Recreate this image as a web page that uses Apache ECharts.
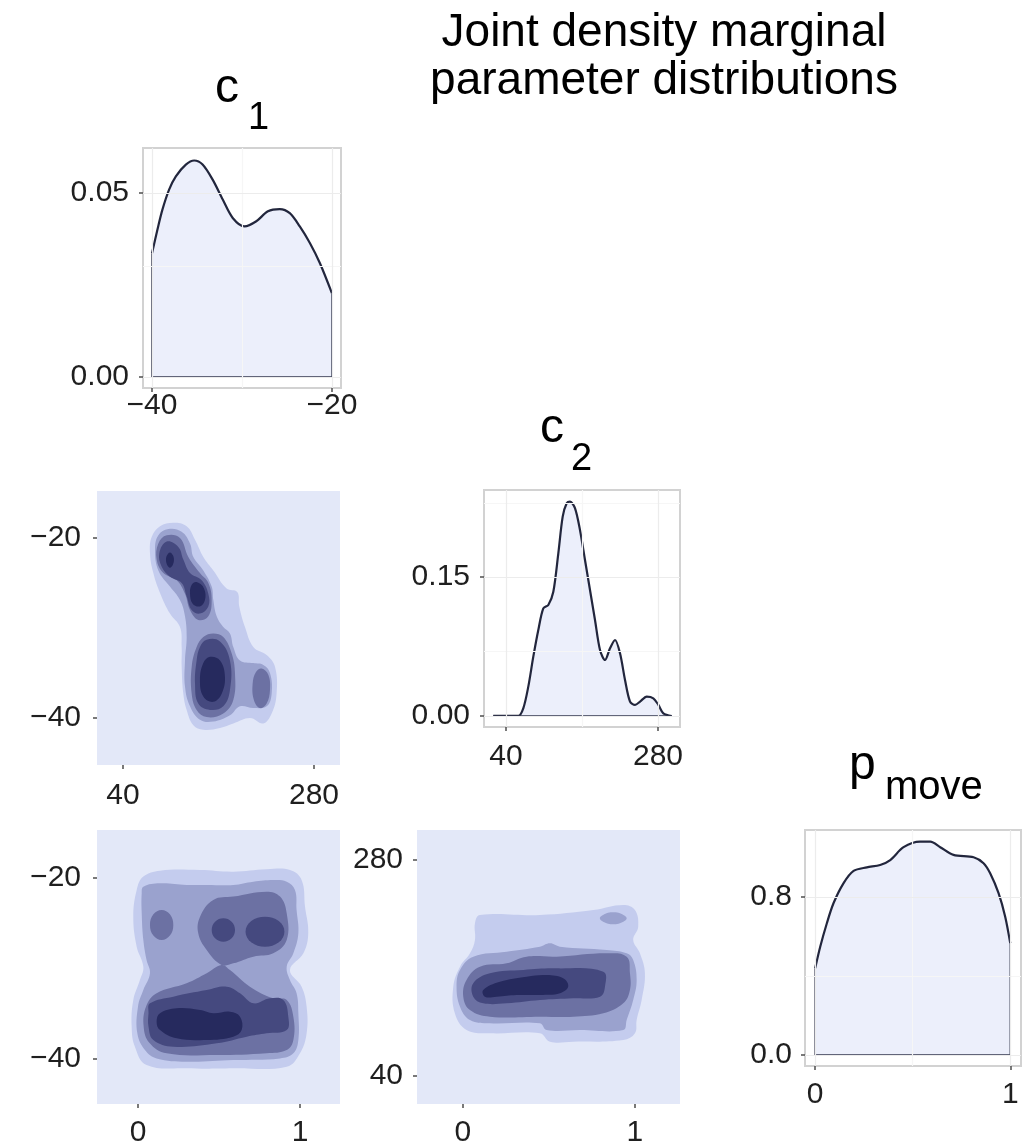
<!DOCTYPE html>
<html>
<head>
<meta charset="utf-8">
<title>Joint density marginal parameter distributions</title>
<script src="https://cdn.jsdelivr.net/npm/echarts@6/dist/echarts.min.js"></script>
<style>
  html, body { margin: 0; padding: 0; background: #ffffff; }
  #chart { width: 1025px; height: 1146px; }
</style>
</head>
<body>
<div id="chart"></div>
<script>
// Marginal density of c1
const c1Values = [-40, -39.4, -38.85, -38.1, -37.35, -36.24, -35.31, -34.38, -33.26, -32.14, -31.03, -29.72, -28.41, -27.12, -25.81, -24.69, -23.58, -22.46, -21.34, -20];
const c1Density = [0.0336, 0.0400, 0.0454, 0.0509, 0.0545, 0.0577, 0.0588, 0.0577, 0.0536, 0.0482, 0.0432, 0.0409, 0.0423, 0.0450, 0.0456, 0.0445, 0.0409, 0.0364, 0.0309, 0.0227];

// Marginal density of c2
const c2Values = [19.9, 59.4, 67.3, 75.2, 83.1, 91.0, 98.9, 106.8, 114.7, 122.6, 129.5, 135.8, 141.1, 149.0, 156.8, 164.7, 172.6, 180.5, 188.4, 196.3, 204.2, 212.1, 220.0, 227.9, 235.8, 243.7, 251.6, 262.2, 272.6, 280.6, 288.4, 301.6];
const c2Density = [0, 0, 0.0083, 0.0317, 0.0640, 0.0928, 0.1162, 0.1198, 0.1341, 0.1756, 0.2151, 0.2295, 0.2313, 0.2241, 0.2007, 0.1683, 0.1360, 0.1036, 0.0712, 0.0604, 0.0730, 0.0820, 0.0676, 0.0388, 0.0155, 0.0119, 0.0155, 0.0209, 0.0191, 0.0119, 0.0029, 0];

// Marginal density of p_move
const pMoveValues = [0, 0.026, 0.060, 0.094, 0.145, 0.197, 0.265, 0.333, 0.385, 0.453, 0.538, 0.590, 0.641, 0.709, 0.812, 0.863, 0.897, 0.940, 0.974, 1];
const pMoveDensity = [0.439, 0.548, 0.667, 0.768, 0.869, 0.932, 0.950, 0.962, 0.987, 1.052, 1.080, 1.080, 1.052, 1.013, 1.001, 0.971, 0.920, 0.819, 0.700, 0.566];

// Tick positions
const c1Ticks = [-40, -20];
const c2Ticks = [40, 280];
const pMoveTicks = [0, 1];
const c1DensityTicks = [0, 0.05];
const c2DensityTicks = [0, 0.15];
const pMoveDensityTicks = [0, 0.8];

// Minor grid positions of the marginal panels
const c1MinorX = [-30];
const c1MinorY = [0.025];
const c2MinorX = [160];
const c2MinorY = [0.075, 0.225];
const pMoveMinorX = [0.5];
const pMoveMinorY = [0.4];

// Joint density bands, each as [level, [[x, y], ...]], lowest level first
const c2c1Bands = [
  [1, [[103.2,-18.3],[120.0,-18.7],[130.5,-20.2],[140.9,-22.1],[153.5,-23.6],[170.2,-25.6],[183.6,-26.0],[186.1,-27.6],[193.3,-29.9],[203.7,-32.1],[220.5,-33.0],[231.0,-34.3],[233.0,-37.3],[226.8,-39.5],[216.3,-40.6],[199.5,-40.0],[178.6,-40.6],[161.9,-41.1],[140.9,-41.3],[128.4,-40.8],[120.0,-39.1],[115.8,-37.3],[113.7,-34.3],[113.7,-32.1],[111.6,-29.9],[99.0,-28.4],[86.5,-26.1],[78.1,-23.9],[73.9,-21.7],[76.0,-19.9],[86.5,-18.7]]],
  [2, [[97.0,-19.0],[113.7,-19.3],[124.2,-20.6],[128.4,-22.1],[140.9,-23.6],[151.4,-25.4],[153.5,-26.9],[157.7,-28.7],[166.0,-29.9],[174.4,-30.6],[178.6,-32.1],[187.0,-33.6],[203.7,-33.9],[216.3,-34.1],[224.7,-35.0],[226.8,-37.3],[220.5,-38.7],[203.7,-38.9],[187.0,-38.7],[174.4,-39.7],[153.5,-40.4],[136.7,-40.2],[124.2,-38.7],[117.9,-36.5],[117.9,-33.6],[120.0,-31.0],[117.9,-28.7],[111.6,-26.9],[99.0,-25.4],[84.4,-23.6],[80.2,-21.3],[84.4,-19.7]]],
  [3, [[94.9,-19.7],[111.6,-20.0],[122.1,-22.1],[136.7,-23.9],[147.2,-25.0],[151.4,-26.9],[147.2,-28.7],[134.6,-29.1],[124.2,-28.0],[117.9,-26.2],[107.4,-24.7],[90.7,-23.9],[82.3,-22.4],[84.4,-20.6]]],
  [3, [[153.5,-30.6],[166.0,-31.0],[176.5,-32.8],[180.7,-35.0],[178.6,-38.0],[166.0,-39.5],[145.1,-39.9],[132.5,-39.1],[126.3,-37.3],[126.3,-34.3],[132.5,-32.1],[140.9,-31.0]]],
  [3, [[214.2,-34.5],[222.6,-35.2],[224.7,-36.9],[220.5,-38.4],[212.1,-38.9],[204.5,-38.0],[202.9,-36.2],[207.1,-34.9]]],
  [4, [[94.9,-20.4],[109.5,-21.0],[115.8,-22.4],[124.2,-23.9],[138.8,-24.7],[147.2,-26.2],[147.2,-27.6],[136.7,-28.4],[126.3,-28.0],[120.0,-26.5],[113.7,-25.0],[99.0,-24.3],[88.6,-23.2],[85.6,-21.7]]],
  [4, [[145.1,-31.3],[161.9,-31.5],[174.4,-33.6],[174.4,-36.9],[166.0,-38.7],[149.3,-39.1],[134.6,-38.4],[130.5,-36.2],[132.5,-33.6],[136.7,-32.1]]],
  [5, [[99,-21.6],[102.5,-21.9],[104,-22.4],[102.5,-23.0],[99,-23.3],[95.5,-23.0],[94,-22.4],[95.5,-21.9]]],
  [5, [[132.5,-24.9],[141.8,-25.6],[143.0,-26.9],[136.7,-27.6],[127.5,-27.3],[124.2,-26.2],[126.3,-25.2]]],
  [5, [[149.3,-33.2],[161.9,-33.6],[168.1,-35.4],[164.0,-37.3],[153.5,-38.2],[140.9,-37.6],[136.7,-35.8],[140.9,-33.9]]]
];

const pMoveC1Bands = [
  [1, [[0.033,-19.85],[0.136,-19.19],[0.383,-19.12],[0.588,-19.30],[0.794,-19.04],[0.938,-19.12],[1.010,-20.22],[1.031,-23.17],[1.051,-26.11],[1.021,-28.32],[0.938,-30.17],[1.010,-32.01],[1.041,-34.22],[1.041,-37.16],[1.000,-39.37],[0.918,-40.85],[0.588,-41.03],[0.300,-41.03],[0.053,-40.66],[-0.019,-38.64],[-0.039,-36.43],[-0.029,-33.48],[0.012,-31.27],[0.033,-29.80],[-0.008,-27.59],[-0.029,-24.27],[-0.008,-21.33]]],
  [2, [[0.033,-20.96],[0.136,-20.59],[0.300,-20.77],[0.424,-20.77],[0.588,-20.77],[0.712,-20.41],[0.835,-20.22],[0.918,-20.41],[0.969,-21.33],[0.979,-23.54],[0.990,-26.11],[0.959,-28.32],[0.918,-29.80],[0.938,-31.27],[0.979,-32.74],[0.990,-34.95],[0.990,-37.90],[0.959,-39.37],[0.877,-39.93],[0.588,-40.11],[0.300,-40.29],[0.115,-39.93],[0.043,-39.01],[-0.004,-37.16],[0.000,-34.22],[0.033,-32.38],[0.074,-30.53],[0.053,-29.06],[0.033,-26.85],[0.023,-23.90],[0.023,-21.69]]],
  [3, [[0.146,-23.53],[0.197,-24.02],[0.218,-25.19],[0.197,-26.36],[0.146,-26.85],[0.095,-26.36],[0.074,-25.19],[0.095,-24.02]]],
  [3, [[0.465,-22.43],[0.588,-22.06],[0.794,-21.51],[0.877,-22.06],[0.918,-23.90],[0.918,-26.85],[0.835,-28.32],[0.712,-28.69],[0.588,-29.43],[0.516,-29.61],[0.424,-27.96],[0.372,-26.11],[0.383,-24.27]]],
  [3, [[0.516,-29.61],[0.568,-30.17],[0.691,-32.01],[0.835,-33.30],[0.918,-33.48],[0.959,-35.32],[0.959,-37.90],[0.918,-39.01],[0.794,-39.37],[0.486,-39.56],[0.177,-39.37],[0.070,-38.20],[0.035,-36.40],[0.050,-34.20],[0.115,-32.74],[0.300,-31.64],[0.424,-30.53]]],
  [4, [[0.527,-24.46],[0.578,-24.84],[0.599,-25.75],[0.578,-26.66],[0.527,-27.04],[0.476,-26.66],[0.455,-25.75],[0.476,-24.84]]],
  [4, [[0.784,-24.27],[0.869,-24.76],[0.904,-25.93],[0.869,-27.10],[0.784,-27.59],[0.699,-27.10],[0.664,-25.93],[0.699,-24.76]]],
  [4, [[0.074,-33.85],[0.218,-33.11],[0.424,-32.38],[0.547,-32.01],[0.630,-32.74],[0.712,-33.85],[0.815,-33.30],[0.897,-33.48],[0.928,-35.32],[0.918,-36.80],[0.794,-37.16],[0.671,-37.53],[0.486,-38.27],[0.218,-38.64],[0.095,-37.90],[0.065,-36.43],[0.065,-34.95]]],
  [5, [[0.136,-34.95],[0.239,-34.40],[0.383,-34.59],[0.465,-34.95],[0.568,-34.77],[0.630,-35.32],[0.640,-36.80],[0.588,-37.53],[0.424,-37.90],[0.239,-37.72],[0.136,-36.80],[0.115,-35.87]]]
];

const pMoveC2Bands = [
  [1, [[0.099,218.9],[0.448,218.9],[0.758,224.4],[0.932,230.0],[1.000,224.4],[1.019,205.9],[0.990,191.1],[1.029,176.3],[1.058,154.1],[1.039,124.4],[1.010,102.2],[1.000,87.4],[0.932,80.0],[0.641,78.1],[0.506,78.1],[0.448,87.4],[0.157,87.4],[0.021,91.1],[-0.047,109.6],[-0.056,139.3],[-0.017,161.5],[0.041,176.3],[0.070,191.1],[0.070,209.6]]],
  [2, [[0.796,215.2],[0.835,220.8],[0.874,221.9],[0.913,220.8],[0.952,215.2],[0.913,209.6],[0.874,208.5],[0.835,209.6]]],
  [2, [[0.060,172.6],[0.254,178.1],[0.448,183.7],[0.506,187.4],[0.564,183.7],[0.835,180.0],[0.952,176.3],[0.990,168.9],[1.010,146.7],[0.990,124.4],[0.952,102.2],[0.932,91.1],[0.680,91.1],[0.486,91.1],[0.448,98.5],[0.157,98.5],[0.041,102.2],[-0.017,117.0],[-0.037,139.3],[-0.017,157.8]]],
  [3, [[0.021,146.7],[0.099,161.5],[0.254,165.2],[0.370,172.6],[0.545,172.6],[0.835,176.3],[0.952,172.6],[0.971,154.1],[0.971,135.6],[0.932,120.7],[0.816,109.6],[0.641,105.9],[0.448,105.9],[0.157,105.9],[0.041,113.3],[0.002,128.1]]],
  [4, [[0.060,143.0],[0.157,154.1],[0.351,157.8],[0.545,159.6],[0.816,155.9],[0.826,139.3],[0.797,128.1],[0.641,126.3],[0.448,124.4],[0.254,120.7],[0.118,120.7],[0.060,128.1]]],
  [5, [[0.118,135.6],[0.215,144.8],[0.370,150.4],[0.486,152.2],[0.583,148.5],[0.612,139.3],[0.564,131.9],[0.448,130.0],[0.312,130.0],[0.196,128.1],[0.128,128.1]]]
];

// Fill colours of the density bands, from the lowest band (panel background) to the highest
const bandColors = ['#e3e8f8', '#c4ccee', '#9aa2ce', '#6c71a3', '#45497f', '#262a5e'];

const FONT = '"Liberation Sans", Arial, Helvetica, sans-serif';

function valueAxis(gridIndex, min, max, ticks, decimals, margin) {
  return {
    type: 'value', gridIndex, min, max,
    axisLine: { show: false, onZero: false },
    splitLine: { show: false },
    axisTick: { show: true, customValues: ticks, length: 4, lineStyle: { color: '#4d4d4d', width: 1.5 } },
    axisLabel: {
      customValues: ticks, margin, fontSize: 30, fontFamily: FONT, color: '#1f1f1f',
      formatter: v => (decimals == null ? String(v) : Number(v).toFixed(decimals)).replace('-', '\u2212')
    }
  };
}

function gridLineSeries(idx, majorX, majorY, minorX, minorY) {
  const make = (xs, ys, color) => ({
    type: 'line', xAxisIndex: idx, yAxisIndex: idx, data: [], silent: true, z: 1,
    markLine: {
      silent: true, symbol: 'none', animation: false, label: { show: false },
      lineStyle: { color, width: 1.2, type: 'solid' },
      emphasis: { disabled: true },
      data: xs.map(v => ({ xAxis: v })).concat(ys.map(v => ({ yAxis: v })))
    }
  });
  return [make(minorX, minorY, '#f6f6f6'), make(majorX, majorY, '#ececec')];
}

function densitySeries(idx, xs, ys) {
  const pts = xs.map((x, i) => [x, ys[i]]);
  const n = xs.length - 1;
  return [
    {
      type: 'line', xAxisIndex: idx, yAxisIndex: idx, data: pts, smooth: 0.3, symbol: 'none', silent: true, z: 3,
      lineStyle: { color: '#22263d', width: 2.2 },
      areaStyle: { color: '#eceffb', opacity: 1 }
    },
    {
      type: 'line', xAxisIndex: idx, yAxisIndex: idx, symbol: 'none', silent: true, z: 4,
      data: [[xs[0], ys[0]], [xs[0], 0], [xs[n], 0], [xs[n], ys[n]]],
      lineStyle: { color: '#34384f', width: 1.5 }
    }
  ];
}

function contourSeries(idx, bands) {
  return {
    type: 'custom', xAxisIndex: idx, yAxisIndex: idx, silent: true, clip: true, z: 2,
    data: bands.map((b, i) => [b[1][0][0], b[1][0][1], i]),
    renderItem: (params, api) => {
      const band = bands[api.value(2)];
      return {
        type: 'polygon',
        shape: { points: band[1].map(p => api.coord(p)), smooth: 0.4 },
        style: { fill: bandColors[band[0]], stroke: null }
      };
    }
  };
}

const marginalGrid = (left, top, width, height) => ({
  left, top, width, height, show: true, backgroundColor: '#ffffff',
  borderColor: '#d2d2d2', borderWidth: 2, outerBoundsMode: 'none'
});
const jointGrid = (left, top, width, height) => ({
  left, top, width, height, show: true, backgroundColor: bandColors[0],
  borderWidth: 0, outerBoundsMode: 'none'
});

function titleText(text, x, y, size) {
  return {
    type: 'text', x, y, silent: true,
    style: { text, font: size + 'px ' + FONT, fill: '#000000', align: 'left', verticalAlign: 'middle',
      textAlign: 'left', textVerticalAlign: 'middle' }
  };
}

const chart = echarts.init(document.getElementById('chart'), null, { renderer: 'canvas' });
chart.setOption({
  animation: false,
  backgroundColor: '#ffffff',
  grid: [
    marginalGrid(143, 148, 198, 240),
    marginalGrid(484, 490, 196, 237),
    marginalGrid(805, 830, 216, 236),
    jointGrid(97, 491, 243, 274),
    jointGrid(97, 830, 243, 274),
    jointGrid(417, 830, 263, 274)
  ],
  xAxis: [
    valueAxis(0, -41, -19, c1Ticks, null, 3),
    valueAxis(1, 5.26, 314.7, c2Ticks, null, 15),
    valueAxis(2, -0.052, 1.055, pMoveTicks, null, 14),
    valueAxis(3, 7.3, 312.7, c2Ticks, null, 16),
    valueAxis(4, -0.253, 1.247, pMoveTicks, null, 14),
    valueAxis(5, -0.267, 1.262, pMoveTicks, null, 14)
  ],
  yAxis: [
    valueAxis(0, -0.003, 0.0622, c1DensityTicks, 2, 14),
    valueAxis(1, -0.0119, 0.2439, c2DensityTicks, 2, 14),
    valueAxis(2, -0.0557, 1.139, pMoveDensityTicks, 1, 13),
    valueAxis(3, -45.22, -14.78, c1Ticks, null, 16),
    valueAxis(4, -44.97, -14.70, c1Ticks, null, 16),
    valueAxis(5, 8.9, 313.3, c2Ticks, null, 14)
  ],
  series: [
    ...gridLineSeries(0, c1Ticks, c1DensityTicks, c1MinorX, c1MinorY),
    ...gridLineSeries(1, c2Ticks, c2DensityTicks, c2MinorX, c2MinorY),
    ...gridLineSeries(2, pMoveTicks, pMoveDensityTicks, pMoveMinorX, pMoveMinorY),
    ...densitySeries(0, c1Values, c1Density),
    ...densitySeries(1, c2Values, c2Density),
    ...densitySeries(2, pMoveValues, pMoveDensity),
    contourSeries(3, c2c1Bands),
    contourSeries(4, pMoveC1Bands),
    contourSeries(5, pMoveC2Bands)
  ],
  graphic: [
    {
      type: 'text', x: 664, y: 9, silent: true,
      style: {
        text: 'Joint density marginal\nparameter distributions',
        font: '46px ' + FONT, fill: '#000000', lineHeight: 48,
        align: 'center', verticalAlign: 'top', textAlign: 'center', textVerticalAlign: 'top'
      }
    },
    titleText('c', 215, 88.4, 48),
    titleText('1', 248, 118.8, 38),
    titleText('c', 540, 428.4, 48),
    titleText('2', 571, 459.8, 38),
    titleText('p', 849, 765.4, 48),
    titleText('move', 885, 788.1, 40)
  ]
});
</script>
</body>
</html>
